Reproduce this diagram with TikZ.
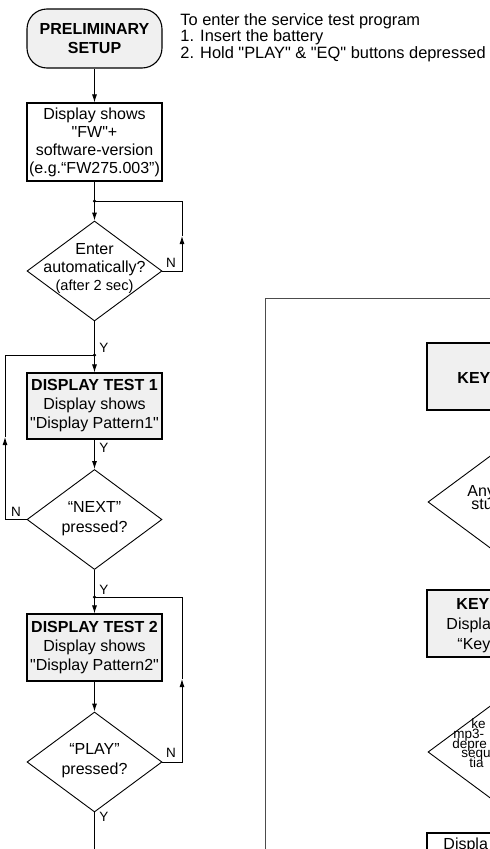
\documentclass[tikz,border=0pt]{standalone}
\usepackage{fontspec}
\setmainfont{Liberation Sans}[Ligatures=TeXOff]
\usetikzlibrary{shapes.geometric,arrows.meta}
\begin{document}
\begin{tikzpicture}[x=1pt,y=-1pt,line width=0.9pt,
  lbl/.style={font=\fontsize{13.5}{15}\selectfont,inner sep=0pt},
  frag/.style={inner sep=0pt,anchor=base west,font=\fontsize{16}{19}\selectfont},
  smallfrag/.style={inner sep=0pt,anchor=base west,font=\fontsize{13.5}{12}\selectfont},
  procbox/.style={draw,line width=1.1pt,minimum width=135pt,inner sep=0pt,align=center,font=\fontsize{16}{19}\selectfont},
  greybox/.style={procbox,fill=gray!12},
  startbox/.style={draw,line width=1.1pt,rounded corners=20pt,fill=gray!12,minimum width=135pt,minimum height=59pt,align=center,font=\fontsize{16}{19}\selectfont\bfseries},
  dia/.style={draw,diamond,minimum width=135pt,minimum height=100pt,inner sep=0pt,line width=0.9pt},
  diatxt/.style={align=center,inner sep=0pt,font=\fontsize{16}{18}\selectfont},
  arr/.style={-{Latex[length=8pt,width=5pt]}},
  frame/.style={draw=black!70,line width=1pt},
  dot/.style={circle,fill,inner sep=0pt,minimum size=3.5pt}
]
\useasboundingbox (0,0) rectangle (490,849);
\clip (0,0) rectangle (490,849);

% ---- left column ----
\node[startbox] (start) at (94.5,38.5) {PRELIMINARY\\SETUP};
\node[anchor=north west,align=left,inner sep=0pt,font=\fontsize{16.4}{16.5}\selectfont] (note) at (180,13)
  {To enter the service test program\\1. Insert the battery\\2. Hold "PLAY" \& "EQ" buttons depressed};

\node[procbox,minimum height=78pt,font=\fontsize{16}{18}\selectfont] (fw) at (94.5,142)
  {Display shows\\"FW"+\\software-version\\(e.g.“FW275.003”)};

\node[dot] (j1) at (94.5,201) {};
\node[dia] (d1) at (94.5,271) {};
\node[diatxt] (d1t) at (94.5,269) {Enter\\automatically?\\{\fontsize{14.6}{16}\selectfont(after 2 sec)}};
\node[lbl] (n1) at (171,263) {N};
\coordinate (l1) at (182,236);

\node[dot] (j2) at (94.5,355) {};
\node[lbl] (y1) at (104,348) {Y};
\node[greybox,minimum height=66pt] (t1) at (94.5,406)
  {\textbf{DISPLAY TEST 1}\\Display shows\\"Display Pattern1"};
\node[lbl] (y2) at (104,448) {Y};
\node[dia] (d2) at (94.5,519.5) {};
\node[diatxt,font=\fontsize{16}{20}\selectfont] (d2t) at (94.5,519) {“NEXT”\\pressed?};
\node[lbl] (n2) at (16,512) {N};
\coordinate (l2) at (5,437);

\node[dot] (j3) at (94.5,597) {};
\node[lbl] (y3) at (104,590) {Y};
\node[greybox,minimum height=67pt] (t2) at (94.5,647.5)
  {\textbf{DISPLAY TEST 2}\\Display shows\\"Display Pattern2"};
\node[dia] (d3) at (94.5,762) {};
\node[diatxt,font=\fontsize{16}{20}\selectfont] (d3t) at (94.5,761) {“PLAY”\\pressed?};
\node[lbl] (n3) at (171,753) {N};
\coordinate (l3) at (182,679);
\node[lbl] (y4) at (104,817) {Y};
\coordinate (bot) at (94.5,870);

\draw[arr] (start.south) -- (fw.north);
\draw (fw.south) -- (j1.center);
\draw[arr] (j1.center) -- (d1.north);
\draw[arr] (d1.east) -| (l1);
\draw (l1) |- (j1.center);
\draw (d1.south) -- (j2.center);
\draw[arr] (j2.center) -- (t1.north);
\draw[arr] (t1.south) -- (d2.north);
\draw[arr] (d2.west) -| (l2);
\draw (l2) |- (j2.center);
\draw (d2.south) -- (j3.center);
\draw[arr] (j3.center) -- (t2.north);
\draw[arr] (t2.south) -- (d3.north);
\draw[arr] (d3.east) -| (l3);
\draw (l3) |- (j3.center);
\draw (d3.south) -- (bot);

% ---- right panel (cut off) ----
\coordinate (fr1) at (265,880);
\coordinate (fr2) at (265,298);
\coordinate (fr3) at (520,298);
\draw[frame] (fr1) -- (fr2) -- (fr3);

\node[greybox,minimum width=136pt,minimum height=67pt] (k1) at (495,376.5) {};
\node[frag,font=\fontsize{16}{19}\selectfont\bfseries] (k1t) at (457,383) {KEY};

\node[dia] (d4) at (495.5,502) {};
\node[frag] (d4a) at (467,496) {Any};
\node[frag] (d4b) at (471,509) {stu};

\node[greybox,minimum width=136pt,minimum height=67pt] (k2) at (495,623.5) {};
\node[frag,font=\fontsize{16}{19}\selectfont\bfseries] (k2a) at (456,609) {KEY};
\node[frag] (k2b) at (446,629) {Displa};
\node[frag] (k2c) at (457,649) {“Key};

\node[dia] (d5) at (495.5,752) {};
\node[smallfrag] (d5a) at (471,728) {ke};
\node[smallfrag] (d5b) at (453,738) {mp3-};
\node[smallfrag] (d5c) at (452,748) {depre};
\node[smallfrag] (d5d) at (461,757.5) {sequ};
\node[smallfrag] (d5e) at (469,767.5) {tia};

\node[procbox,minimum width=136pt,minimum height=66pt] (k3) at (495,866) {};
\node[frag] (k3t) at (443,849) {Displa};
\end{tikzpicture}
\end{document}
